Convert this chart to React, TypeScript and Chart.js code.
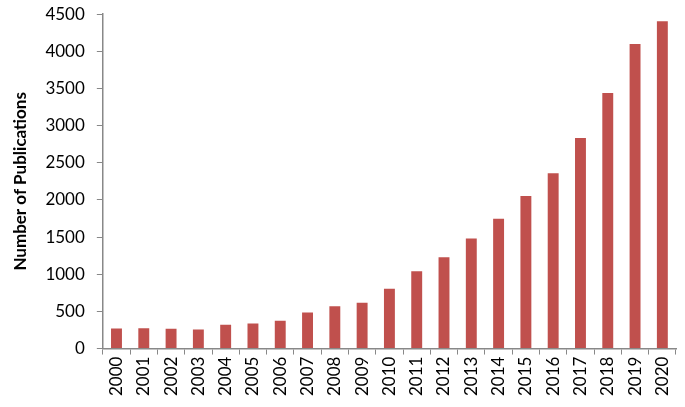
import React, { useEffect, useRef } from "react";
import { Chart, registerables } from "chart.js";

Chart.register(...registerables);

const years = ["2000","2001","2002","2003","2004","2005","2006","2007","2008","2009","2010","2011","2012","2013","2014","2015","2016","2017","2018","2019","2020"];
const publications = [270, 274, 265, 256, 319, 337, 373, 486, 571, 616, 806, 1040, 1229, 1481, 1746, 2052, 2358, 2835, 3438, 4100, 4405];
const yTitle = "Number of Publications";

export default function App() {
  const ref = useRef<HTMLCanvasElement>(null);
  useEffect(() => {
    document.body.style.margin = "0";
    document.body.style.overflow = "hidden";
    const ctx = ref.current!;
    const chart = new Chart(ctx, {
      type: "bar",
      data: {
        labels: years,
        datasets: [{
          data: publications,
          backgroundColor: "#c0504d",
          borderWidth: 0,
          categoryPercentage: 1,
          barPercentage: 0.4,
        }],
      },
      options: {
        animation: false,
        responsive: false,
        layout: { padding: { top: 0, right: 9, left: 7, bottom: 9 } },
        plugins: { legend: { display: false }, tooltip: { enabled: false } },
        scales: {
          x: {
            grid: { display: true, offset: true, drawOnChartArea: false, drawTicks: true, tickLength: 6, color: "#888" },
            border: { color: "#888", width: 1.5 },
            ticks: { minRotation: 90, maxRotation: 90, color: "#000", font: { family: "Lato", size: 17 }, padding: 2, autoSkip: false },
          },
          y: {
            min: 0, max: 4500,
            grid: { display: true, drawOnChartArea: false, tickLength: 6, color: "#888" },
            border: { color: "#888", width: 1.5 },
            ticks: { stepSize: 500, color: "#000", font: { family: "Lato", size: 17 }, padding: 12, callback: (v: any) => String(v) },
            title: { display: true, text: yTitle, color: "#000", font: { family: "Lato", size: 17, weight: "bold" }, padding: 3 },
          },
        },
      },
    });
    return () => chart.destroy();
  }, []);
  return <canvas ref={ref} width={685} height={415} style={{ display: "block", marginTop: -8 }} />;
}
